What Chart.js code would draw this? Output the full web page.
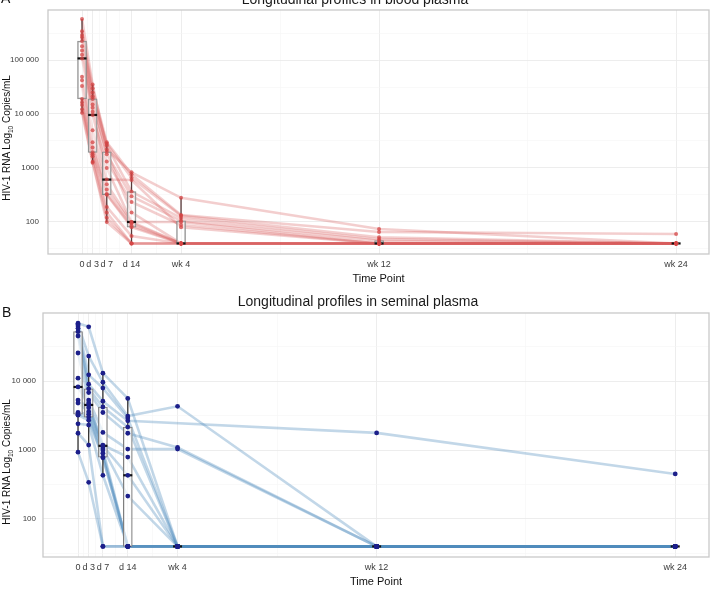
<!DOCTYPE html>
<html><head><meta charset="utf-8">
<script src="https://cdn.jsdelivr.net/npm/chart.js@4.4.1/dist/chart.umd.min.js"></script>
<style>
html,body{margin:0;padding:0;background:#fff;}
body{width:721px;height:590px;overflow:hidden;position:relative;font-family:"Liberation Sans",Arial,sans-serif;}
.wrap{position:absolute;left:0;width:721px;height:295px;}
#wa{top:0;}
#wb{top:303px;}
.ttl{position:absolute;font-size:14px;color:#1a1a1a;white-space:nowrap;transform:translate(-50%,-50%);}
.lab{position:absolute;font-size:14px;color:#111;transform:translate(0,-50%);}
.ytl{position:absolute;font-size:10px;color:#111;white-space:nowrap;transform:translate(-50%,-50%) rotate(-90deg);}
</style></head><body>
<div class="wrap" id="wa"><canvas id="ca" width="721" height="295"></canvas></div>
<div class="wrap" id="wb"><canvas id="cb" width="721" height="295"></canvas></div>
<div class="ttl" style="left:355px;top:-1px">Longitudinal profiles in blood plasma</div>
<div class="ttl" style="left:358px;top:301px">Longitudinal profiles in seminal plasma</div>
<div class="lab" style="left:1px;top:-2px">A</div>
<div class="lab" style="left:2px;top:312px">B</div>
<div class="ytl" style="left:7px;top:138px">HIV-1 RNA Log<sub style="font-size:6.5px">10</sub> Copies/mL</div>
<div class="ytl" style="left:7px;top:462px">HIV-1 RNA Log<sub style="font-size:6.5px">10</sub> Copies/mL</div>
<script>
// ---- data ----
const days = [0, 3, 7, 14, 28, 84, 168];
const dayLabels = ['0', 'd 3', 'd 7', 'd 14', 'wk 4', 'wk 12', 'wk 24'];
const minorDays = [1.5, 5, 10.5, 21, 56, 126];

const bloodTickValues = [100, 1000, 10000, 100000];
const bloodTickLabels = ['100', '1000', '10 000', '100 000'];
const semenTickValues = [100, 1000, 10000];
const semenTickLabels = ['100', '1000', '10 000'];

// blood plasma, one row per participant, values at days 0,3,7,14,28,84,168
const bloodPlasma = [
  [575000, 35000, 2200, 830, 280, 74, 40],
  [340000, 30000, 3000, 760, 135, 65, 60],
  [290000, 21000, 2800, 660, 130, 52, 40],
  [263000, 25000, 2600, 365, 118, 48, 40],
  [224000, 19000, 1800, 300, 105, 45, 40],
  [180000, 15000, 2000, 150, 40, 40, 40],
  [150000, 13000, 1320, 235, 88, 40, 40],
  [125000, 11000, 610, 600, 80, 40, 40],
  [107000, 9600, 1000, 100, 100, 40, 40],
  [49000, 5000, 500, 100, 40, 40, 40],
  [42000, 3000, 400, 95, 40, 40, 40],
  [33000, 2400, 330, 85, 40, 40, 40],
  [19000, 1950, 320, 80, 40, 40, 40],
  [16500, 1800, 190, 55, 40, 40, 40],
  [14700, 1650, 150, 40, 40, 40, 40],
  [12300, 1300, 120, 40, 40, 40, 40],
  [10500, 1250, 100, 40, 40, 40, 40]
];

// seminal plasma, one row per participant (null = not sampled)
const seminalPlasma = [
  [69000, 61000, 13000, 5600, 40, 40, 40],
  [66000, 23000, 9600, 3100, 4300, 40, 40],
  [63000, 12300, 7900, 2900, 40, 40, 40],
  [58000, 9000, 5100, 2650, null, 1770, 450],
  [52000, 7700, 4200, 2150, 40, 40, 40],
  [45000, 6800, 3500, 1750, 1090, 40, 40],
  [25500, 5300, 1800, 1030, 1030, 40, 40],
  [11000, 4800, 1180, 790, 40, 40, 40],
  [8200, 4500, 1150, 430, 40, 40, 40],
  [5300, 4100, 1070, 215, 40, 40, 40],
  [4800, 3600, 1000, 40, 40, 40, 40],
  [3500, 3300, 900, 40, 40, 40, 40],
  [3300, 3000, 790, 40, 40, 40, 40],
  [3200, 2700, 770, 40, 40, 40, 40],
  [2400, 2300, 430, 40, 40, 40, 40],
  [1750, 1180, 40, 40, 40, 40, 40],
  [930, 340, 40, 40, 40, 40, 40]
];

// ---- helpers ----
Chart.defaults.font.family = "'Liberation Sans', Arial, sans-serif";

function quant(sorted, p) {
  const h = (sorted.length - 1) * p;
  const lo = Math.floor(h);
  const hi = Math.min(lo + 1, sorted.length - 1);
  return sorted[lo] + (h - lo) * (sorted[hi] - sorted[lo]);
}
function boxStats(rows) {
  return days.map((d, i) => {
    const v = rows.map(r => r[i]).filter(x => x != null).map(Math.log10).sort((a, b) => a - b);
    const q1 = quant(v, 0.25), med = quant(v, 0.5), q3 = quant(v, 0.75);
    const iqr = q3 - q1;
    const up = Math.max(...v.filter(x => x <= q3 + 1.5 * iqr));
    const lo = Math.min(...v.filter(x => x >= q1 - 1.5 * iqr));
    const p = x => Math.pow(10, x);
    return {x: d, q1: p(q1), med: p(med), q3: p(q3), lo: p(lo), up: p(up)};
  });
}

const panelBorder = {
  id: 'panelBorder',
  beforeDatasetsDraw(chart) {
    const a = chart.chartArea, c = chart.ctx;
    c.save();
    c.strokeStyle = '#c9c9c9';
    c.lineWidth = 1.3;
    c.strokeRect(a.left, a.top, a.right - a.left, a.bottom - a.top);
    c.restore();
  }
};

function makeChart(canvasId, rows, opt) {
  const stats = boxStats(rows);
  const datasets = [];
  rows.forEach(r => {
    datasets.push({
      type: 'line',
      data: days.map((d, i) => ({x: d, y: r[i]})),
      borderColor: opt.lineColor,
      borderWidth: 2.6,
      pointRadius: 0,
      spanGaps: true,
      tension: 0,
      order: 10
    });
  });
  datasets.push({
    type: 'bar',
    data: stats.map(s => ({x: s.x, y: [s.q1, s.q3]})),
    backgroundColor: opt.boxFill,
    borderColor: opt.boxLine,
    borderWidth: 1,
    borderSkipped: false,
    barThickness: 9,
    order: 5
  });
  const wh = [];
  stats.forEach(s => {
    wh.push({x: s.x, y: s.q3}, {x: s.x, y: s.up}, {x: s.x, y: null});
    wh.push({x: s.x, y: s.q1}, {x: s.x, y: s.lo}, {x: s.x, y: null});
  });
  datasets.push({
    type: 'line',
    data: wh,
    borderColor: opt.whisker,
    borderWidth: 1.3,
    pointRadius: 0,
    spanGaps: false,
    order: 4
  });
  datasets.push({
    type: 'scatter',
    data: stats.map(s => ({x: s.x, y: s.med})),
    pointStyle: 'line',
    pointRadius: 4.5,
    borderWidth: 2.2,
    borderColor: '#111',
    backgroundColor: '#111',
    order: 3
  });
  const pts = [];
  rows.forEach(r => days.forEach((d, i) => { if (r[i] != null) pts.push({x: d, y: r[i]}); }));
  datasets.push({
    type: 'scatter',
    data: pts,
    pointRadius: opt.ptR,
    backgroundColor: opt.ptColor,
    borderWidth: 0,
    order: 1
  });

  const yMinor = [Math.pow(10, 1.5), Math.pow(10, 2.5), Math.pow(10, 3.5), Math.pow(10, 4.5), Math.pow(10, 5.5)];
  const yAll = opt.yTicks.concat(yMinor).filter(v => v >= opt.yMin && v <= opt.yMax).sort((a, b) => a - b);
  const xAll = days.concat(minorDays).sort((a, b) => a - b);

  return new Chart(document.getElementById(canvasId), {
    type: 'scatter',
    data: {datasets},
    plugins: [panelBorder],
    options: {
      responsive: false,
      devicePixelRatio: 1,
      animation: false,
      events: [],
      layout: {padding: {left: 0, right: 12, top: 10, bottom: 0}},
      plugins: {legend: {display: false}, tooltip: {enabled: false}},
      scales: {
        x: {
          type: 'linear',
          min: opt.xMin, max: opt.xMax,
          offset: false,
          afterBuildTicks: s => { s.ticks = xAll.map(v => ({value: v})); },
          afterFit: s => { s.height = 41; },
          grid: {
            offset: false,
            drawTicks: true,
            tickLength: 5,
            tickColor: 'rgba(0,0,0,0)',
            color: c => days.includes(c.tick && c.tick.value) ? '#ebebeb' : '#f5f5f5',
            lineWidth: c => days.includes(c.tick && c.tick.value) ? 0.9 : 0.6
          },
          border: {display: false},
          ticks: {
            autoSkip: false, maxRotation: 0, padding: 0,
            font: {size: 9}, color: '#3c3c3c',
            callback: v => { const i = days.indexOf(v); return i >= 0 ? dayLabels[i] : ''; }
          },
          title: {display: true, text: 'Time Point', font: {size: 11}, color: '#111', padding: {top: 0, bottom: 9}}
        },
        y: {
          type: 'logarithmic',
          min: opt.yMin, max: opt.yMax,
          beginAtZero: false,
          afterBuildTicks: s => { s.ticks = yAll.map(v => ({value: v})); },
          afterFit: s => { s.width = opt.yWidth; },
          grid: {
            drawTicks: true,
            tickLength: opt.yPad,
            tickColor: 'rgba(0,0,0,0)',
            color: c => opt.yTicks.includes(c.tick && c.tick.value) ? '#ebebeb' : '#f5f5f5',
            lineWidth: c => opt.yTicks.includes(c.tick && c.tick.value) ? 0.9 : 0.6
          },
          border: {display: false},
          ticks: {
            autoSkip: false, padding: 0,
            font: {size: 8}, color: '#3c3c3c',
            callback: v => { const i = opt.yTicks.indexOf(v); return i >= 0 ? opt.yLabels[i] : ''; }
          },
          title: {display: false}
        }
      }
    }
  });
}

makeChart('ca', bloodPlasma, {
  lineColor: 'rgba(214,92,92,0.30)',
  ptColor: 'rgba(214,70,70,0.75)',
  ptR: 2,
  boxFill: 'rgba(255,255,255,0.45)',
  boxLine: '#8a8a8a',
  whisker: '#5a3a3a',
  yTicks: bloodTickValues, yLabels: bloodTickLabels,
  yMin: 25.5, yMax: 844000,
  xMin: -9.62, xMax: 177.3,
  yWidth: 48, yPad: 9
});

makeChart('cb', seminalPlasma, {
  lineColor: 'rgba(80,140,190,0.35)',
  ptColor: '#1c1f8a',
  ptR: 2.4,
  boxFill: 'rgba(255,255,255,0.65)',
  boxLine: '#7a7a7a',
  whisker: '#333',
  yTicks: semenTickValues, yLabels: semenTickLabels,
  yMin: 28.1, yMax: 96900,
  xMin: -9.85, xMax: 177.5,
  yWidth: 43, yPad: 7
});
</script>
</body></html>
